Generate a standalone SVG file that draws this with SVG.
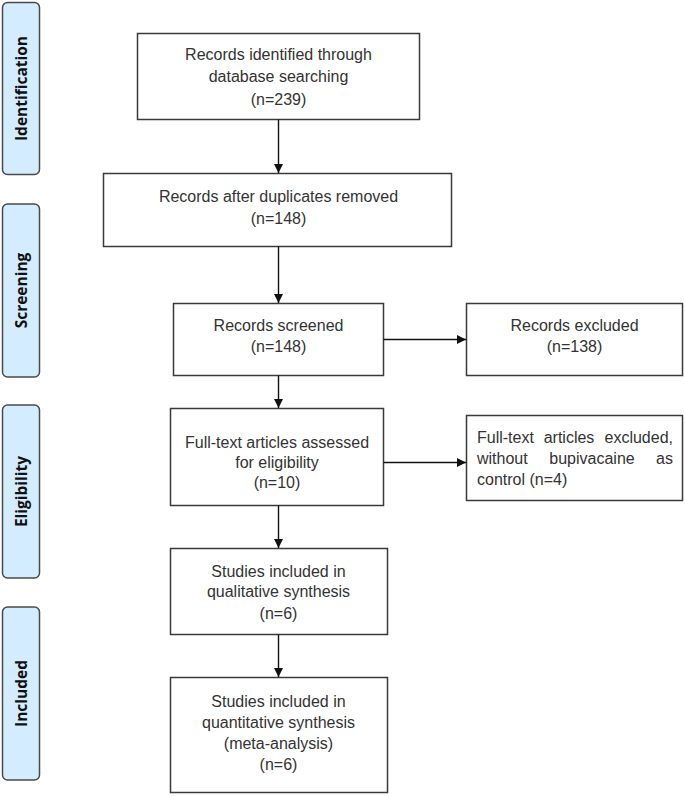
<svg xmlns="http://www.w3.org/2000/svg" width="685" height="796" viewBox="0 0 685 796">
<style>
.box{fill:#fff;stroke:#3a3a3a;stroke-width:1.5}
.stage{fill:#d4ecff;stroke:#4a4a4a;stroke-width:1.5}
.t{font-family:"Liberation Sans",Arial,sans-serif;font-size:16px;fill:#333;text-anchor:middle}
.tl{font-family:"Liberation Sans",Arial,sans-serif;font-size:16px;fill:#333}
.st{font-family:"Open Sans","DejaVu Sans",sans-serif;font-size:15.5px;font-weight:bold;fill:#111;text-anchor:middle}
.c{stroke:#111;stroke-width:1.4;fill:none;marker-end:url(#ah)}
</style>
<defs>
<marker id="ah" markerWidth="10" markerHeight="10" refX="9" refY="5" orient="auto" markerUnits="userSpaceOnUse">
<path d="M0,0.5 L9,5 L0,9.5 Z" fill="#111"/>
</marker>
</defs>
<rect width="685" height="796" fill="#fff"/>
<g id="stage-identification"><rect class="stage" x="2.5" y="2.5" width="37" height="172" rx="5"/><text class="st" transform="translate(27,88.5) rotate(-90)">Identification</text></g>
<g id="stage-screening"><rect class="stage" x="2.5" y="204" width="37" height="173" rx="5"/><text class="st" transform="translate(27,290.5) rotate(-90)">Screening</text></g>
<g id="stage-eligibility"><rect class="stage" x="2.5" y="405" width="37" height="173" rx="5"/><text class="st" transform="translate(27,491.5) rotate(-90)">Eligibility</text></g>
<g id="stage-included"><rect class="stage" x="2.5" y="607" width="37" height="173" rx="5"/><text class="st" transform="translate(27,693.5) rotate(-90)">Included</text></g>

<g id="identified"><rect class="box" x="137.5" y="33.5" width="282" height="86"/>
<text class="t" x="278.5" y="60">Records identified through</text><text class="t" x="278.5" y="82">database searching</text><text class="t" x="278.5" y="105">(n=239)</text></g>
<g id="duplicates"><rect class="box" x="103.5" y="173.5" width="348" height="73"/>
<text class="t" x="278.5" y="202">Records after duplicates removed</text><text class="t" x="278.5" y="224">(n=148)</text></g>
<g id="screened"><rect class="box" x="173.5" y="303.5" width="210" height="72"/>
<text class="t" x="278.5" y="331">Records screened</text><text class="t" x="278.5" y="352">(n=148)</text></g>
<g id="excluded"><rect class="box" x="466.5" y="303.5" width="216" height="72"/>
<text class="t" x="574.5" y="331">Records excluded</text><text class="t" x="574.5" y="352">(n=138)</text></g>
<g id="fulltext"><rect class="box" x="170.5" y="408.5" width="213" height="97"/>
<text class="t" x="277" y="448">Full-text articles assessed</text><text class="t" x="277" y="468">for eligibility</text><text class="t" x="277" y="488">(n=10)</text></g>
<g id="fulltext-excluded"><rect class="box" x="466.5" y="415.5" width="216" height="85"/>
<text class="tl" x="477" y="443">Full-text</text><text class="t" x="569" y="443">articles</text><text class="tl" x="673" y="443" text-anchor="end">excluded,</text>
<text class="tl" x="477" y="464">without</text><text class="t" x="592" y="464">bupivacaine</text><text class="tl" x="673" y="464" text-anchor="end">as</text>
<text class="tl" x="477" y="485">control (n=4)</text></g>
<g id="qualitative"><rect class="box" x="170.5" y="548.5" width="217" height="86"/>
<text class="t" x="278.5" y="577">Studies included in</text><text class="t" x="278.5" y="597">qualitative synthesis</text><text class="t" x="278.5" y="619">(n=6)</text></g>
<g id="quantitative"><rect class="box" x="170.5" y="677.5" width="217" height="115"/>
<text class="t" x="278.5" y="707">Studies included in</text><text class="t" x="278.5" y="728">quantitative synthesis</text><text class="t" x="278.5" y="749">(meta-analysis)</text><text class="t" x="278.5" y="770">(n=6)</text></g>

<g id="connectors">
<line class="c" x1="278.5" y1="119.5" x2="278.5" y2="173"/>
<line class="c" x1="278.5" y1="246.5" x2="278.5" y2="303"/>
<line class="c" x1="383.5" y1="339.5" x2="466" y2="339.5"/>
<line class="c" x1="278.5" y1="375.5" x2="278.5" y2="408"/>
<line class="c" x1="383.5" y1="462.5" x2="466" y2="462.5"/>
<line class="c" x1="278.5" y1="505.5" x2="278.5" y2="548"/>
<line class="c" x1="278.5" y1="634.5" x2="278.5" y2="677"/>
</g>
</svg>
